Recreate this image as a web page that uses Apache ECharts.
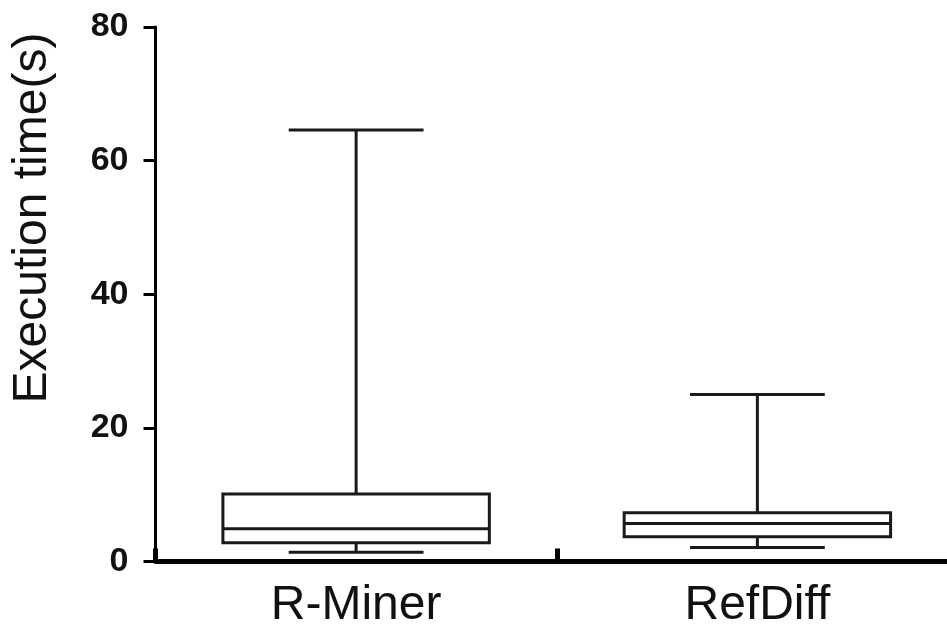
<!DOCTYPE html>
<html>
<head>
<meta charset="utf-8">
<script src="https://cdn.jsdelivr.net/npm/echarts@6/dist/echarts.min.js"></script>
<style>
html,body{margin:0;padding:0;background:#fff;overflow:hidden;width:947px;height:637px;}
#chart{width:958px;height:637px;}
</style>
</head>
<body>
<div id="chart"></div>
<script>
const categories = ['R-Miner', 'RefDiff'];
const mins = [1.4, 2.1];
const q1s = [2.8, 3.7];
const medians = [4.9, 5.7];
const q3s = [10.1, 7.3];
const maxs = [64.6, 25.0];
const yMin = 0, yMax = 80, yStep = 20;
const yTitle = 'Execution time(s)';

const boxData = categories.map((c, i) => [i, mins[i], q1s[i], medians[i], q3s[i], maxs[i]]);

const chart = echarts.init(document.getElementById('chart'));
const stroke = '#1a1a1a';
const lw = 3;

function renderBox(params, api) {
  const x = api.value(0);
  const pMin = api.coord([x, api.value(1)]);
  const pQ1 = api.coord([x, api.value(2)]);
  const pMed = api.coord([x, api.value(3)]);
  const pQ3 = api.coord([x, api.value(4)]);
  const pMax = api.coord([x, api.value(5)]);
  const band = api.size([1, 0])[0];
  const bh = band * 0.332;
  const ch = band * 0.168;
  const cx = pMed[0];
  const st = { stroke: stroke, lineWidth: lw, fill: null };
  return {
    type: 'group',
    children: [
      { type: 'line', shape: { x1: cx, y1: pQ3[1], x2: cx, y2: pMax[1] }, style: st },
      { type: 'line', shape: { x1: cx - ch, y1: pMax[1], x2: cx + ch, y2: pMax[1] }, style: st },
      { type: 'line', shape: { x1: cx, y1: pQ1[1], x2: cx, y2: pMin[1] }, style: st },
      { type: 'line', shape: { x1: cx - ch, y1: pMin[1], x2: cx + ch, y2: pMin[1] }, style: st },
      { type: 'rect', shape: { x: cx - bh, y: pQ3[1], width: 2 * bh, height: pQ1[1] - pQ3[1] }, style: { stroke: stroke, lineWidth: lw, fill: '#fff' } },
      { type: 'line', shape: { x1: cx - bh, y1: pMed[1], x2: cx + bh, y2: pMed[1] }, style: st }
    ]
  };
}

chart.setOption({
  animation: false,
  backgroundColor: '#fff',
  grid: { left: 155.5, top: 27, right: 0, bottom: 75.5, containLabel: false },
  graphic: [{
    type: 'text',
    x: 33, y: 218,
    rotation: Math.PI / 2,
    style: {
      text: yTitle,
      font: '48px "Liberation Sans", Arial, sans-serif',
      fill: '#111',
      textAlign: 'center',
      textVerticalAlign: 'middle'
    }
  }],
  xAxis: {
    type: 'category',
    data: categories,
    boundaryGap: true,
    axisLine: { show: true, lineStyle: { color: '#000', width: 5 } },
    axisTick: { show: true, inside: true, length: 13, lineStyle: { color: '#000', width: 5 } },
    axisLabel: { fontSize: 48, color: '#111', fontFamily: '"Liberation Sans", Arial, sans-serif', margin: 20 },
    splitLine: { show: false }
  },
  yAxis: {
    type: 'value',
    min: yMin, max: yMax, interval: yStep,
    axisLine: { show: true, lineStyle: { color: '#000', width: 3 } },
    axisTick: { show: true, length: 12, lineStyle: { color: '#000', width: 3 } },
    axisLabel: { fontSize: 34, fontWeight: 'bold', color: '#111', fontFamily: '"Liberation Sans", Arial, sans-serif', margin: 27 },
    splitLine: { show: false }
  },
  series: [{
    type: 'custom',
    renderItem: renderBox,
    data: boxData,
    encode: { x: 0, y: [1, 2, 3, 4, 5] },
    clip: false,
    z: 3
  }]
});
</script>
</body>
</html>
